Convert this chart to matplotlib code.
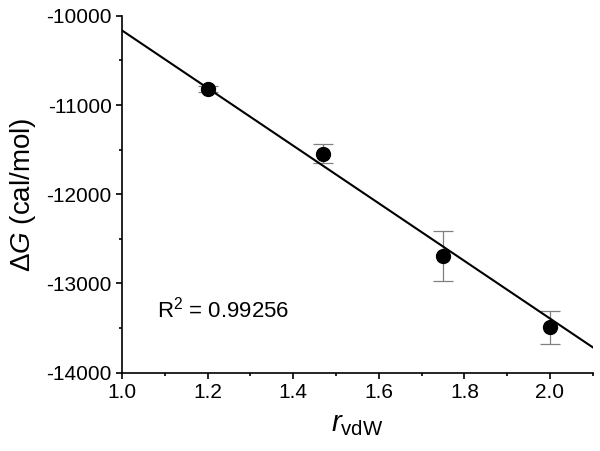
import matplotlib
matplotlib.use("Agg")
import matplotlib.pyplot as plt
import numpy as np
from matplotlib.ticker import MultipleLocator, FormatStrFormatter

plt.rcParams['font.family'] = ['Liberation Sans', 'DejaVu Sans']
plt.rcParams['mathtext.fontset'] = 'custom'
plt.rcParams['mathtext.rm'] = 'Liberation Sans'
plt.rcParams['mathtext.it'] = 'Liberation Sans:italic'
plt.rcParams['axes.unicode_minus'] = False

r_vdw = [1.2, 1.47, 1.75, 2.0]
dG = [-10821, -11546, -12692, -13491]
dG_err = [30, 108, 285, 185]
fit_slope = -3229.0
fit_intercept = -6935.0
r2_text = "R$^2$ = 0.99256"

fig = plt.figure(figsize=(6, 4.51), dpi=100)
ax = fig.add_axes([0.2033, 0.1736, 0.7847, 0.7914])

xfit = np.array([1.0, 2.1])
ax.plot(xfit, fit_intercept + fit_slope * xfit, color='black', lw=1.5, zorder=2)
ax.errorbar(r_vdw, dG, yerr=dG_err, fmt='none', ecolor='#808080', elinewidth=0.9,
            capsize=7, capthick=0.9, zorder=1)
ax.plot(r_vdw, dG, 'o', color='black', ms=10, zorder=3)

ax.set_xlim(1.0, 2.1)
ax.set_ylim(-14000, -10000)
ax.xaxis.set_major_locator(MultipleLocator(0.2))
ax.xaxis.set_minor_locator(MultipleLocator(0.1))
ax.yaxis.set_major_locator(MultipleLocator(1000))
ax.yaxis.set_minor_locator(MultipleLocator(500))
ax.tick_params(which='major', direction='out', length=4.5, width=1.2, labelsize=15, pad=3)
ax.tick_params(which='minor', direction='out', length=2.5, width=1.2)
ax.xaxis.set_major_formatter(FormatStrFormatter('%.1f'))
for s in ['top', 'right']:
    ax.spines[s].set_visible(False)
for s in ['left', 'bottom']:
    ax.spines[s].set_linewidth(1.2)

ax.set_xlabel(r'$\mathit{r}_{\mathrm{vdW}}$', fontsize=21, labelpad=6)
ax.set_ylabel('Δ$\\mathit{G}$ (cal/mol)', fontsize=20, labelpad=6)
ax.text(0.075, 0.155, r2_text, transform=ax.transAxes, fontsize=16)

fig.savefig('out.png', dpi=100)
